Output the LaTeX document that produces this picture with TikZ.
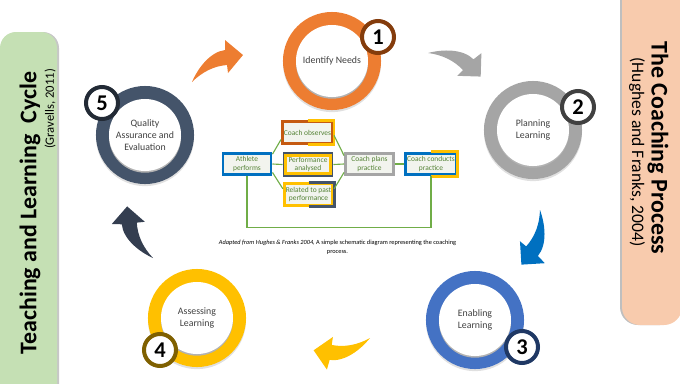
\documentclass[tikz,border=0pt]{standalone}
\usepackage{fontspec}
\setmainfont{Carlito}
\usetikzlibrary{positioning}
\definecolor{ringorange}{RGB}{237,125,49}
\definecolor{ringgray}{RGB}{165,165,165}
\definecolor{ringblue}{RGB}{68,114,196}
\definecolor{ringyellow}{RGB}{255,192,0}
\definecolor{ringslate}{RGB}{68,84,106}
\definecolor{numbrown}{RGB}{132,60,12}
\definecolor{numgray}{RGB}{64,64,64}
\definecolor{numnavy}{RGB}{31,56,100}
\definecolor{numolive}{RGB}{127,96,0}
\definecolor{numdark}{RGB}{34,42,53}
\definecolor{arrowblue}{RGB}{0,112,192}
\definecolor{arrowslate}{RGB}{52,62,80}
\definecolor{leftbar}{RGB}{197,224,180}
\definecolor{rightbar}{RGB}{248,203,173}
\definecolor{boxbrown}{RGB}{197,90,17}
\definecolor{boxfill}{RGB}{242,244,238}
\definecolor{boxtext}{RGB}{84,130,53}
\definecolor{linegreen}{RGB}{112,173,71}
\definecolor{ringtext}{RGB}{64,64,64}

\tikzset{
  ring/.style={circle, minimum size=1.8cm, inner sep=0pt, fill=white,
    text=ringtext, align=center, font=\fontsize{7}{8.5}\selectfont,
    preaction={draw=black!12, line width=0.65cm, transform canvas={yshift=-1.5pt}},
    preaction={draw=#1, line width=0.65cm},
    preaction={fill=black!30, transform canvas={yshift=-1.2pt}}},
  badge/.style={circle, draw=#1, line width=0.1cm, fill=white,
    minimum size=0.8cm, inner sep=0pt,
    font=\fontsize{16}{16}\selectfont\bfseries},
  stage/.style={draw=#1, line width=2.1pt, fill=boxfill, minimum width=1.2cm,
    minimum height=0.53cm, inner sep=1pt, align=center, text=boxtext,
    font=\fontsize{5.3}{6}\selectfont},
  flow/.style={draw=linegreen, line width=0.8pt},
  bartitle/.style={font=\fontsize{17}{17}\selectfont\bfseries},
  barsub/.style={font=\fontsize{9}{9}\selectfont},
  bendarrow/.pic={
    \path[pic actions] (0,0) .. controls (6,-14) and (18,-30) .. (33,-32)
      -- (33,-42) -- (51,-27) -- (36,-9) -- (35,-17)
      .. controls (22,-16) and (10,-10) .. (0,0) -- cycle;
  },
}

\begin{document}
\begin{tikzpicture}[x=0.025cm, y=-0.025cm]
  \useasboundingbox (0,0) rectangle (680,383);
  % Side bars
  \fill[black!22, rounded corners=0.4cm] (2,32) rectangle (59,420);
  \fill[leftbar, rounded corners=0.4cm] (0,32) rectangle (57,420);
  \fill[black!25, rounded corners=0.45cm] (620,-40) rectangle (678,325);
  \fill[rightbar, rounded corners=0.45cm] (622,-40) rectangle (682,325);
  \node[bartitle, rotate=90] (cycle) at (30,213) {Teaching and Learning\ \ Cycle};
  \node[barsub, rotate=90] (gravells) at (50,109) {(Gravells, 2011)};
  \node[bartitle, rotate=-90] (coaching) at (658,148) {The Coaching Process};
  \node[barsub, rotate=-90, font=\fontsize{12.5}{12.5}\selectfont] (hughes)
    at (637,152) {(Hughes and Franks, 2004)};
  % Curved arrows between the stages
  \foreach \xy/\ang/\col in {{192,82}/0/ringorange, {428,53}/-52/ringgray,
      {540,210}/-136.7/arrowblue, {370,338}/164.4/ringyellow,
      {153,258}/88.7/arrowslate}{
    \pic[fill=\col, rotate=\ang] at (\xy) {bendarrow};
  }
  % Cycle stages with their numbers
  \foreach \nm/\xy/\rc/\bc/\off/\num/\txt in {
      need/{332,61}/ringorange/numbrown/{46,-24}/1/{Identify Needs},
      plan/{533,130}/ringgray/numgray/{45,-23}/2/{Planning\\Learning},
      enable/{475,320}/ringblue/numnavy/{47,27}/3/{Enabling\\Learning},
      assess/{197,318}/ringyellow/numolive/{-37,32}/4/{Assessing\\Learning},
      quality/{145,135}/ringslate/numdark/{-43,-32}/5/{Quality\\Assurance and\\Evaluation}}{
    \node[ring=\rc] (\nm) at (\xy) {\txt};
    \node[badge=\bc] (\nm-num) at ([shift={(\off)}]\nm.center) {\num};
  }
  % Schematic of the coaching process
  \node[stage=arrowblue] (athlete) at (247,164) {Athlete\\performs};
  \node[stage=boxbrown] (observes) at (307.5,132.5) {Coach observes};
  \node[stage=ringslate] (analysed) at (308,164.5) {Performance\\analysed};
  \node[stage=ringyellow] (related) at (308.5,194.5) {Related to past\\performance};
  \node[stage=ringgray] (plans) at (369.5,164) {Coach plans\\practice};
  \node[stage=arrowblue] (conducts) at (431,164) {Coach conducts\\practice};
  \foreach \nm/\col in {observes/ringyellow, related/ringslate, conducts/ringyellow}{
    \draw[\col, line width=2.1pt] (\nm.north) -- (\nm.north east)
      -- (\nm.south east) -- (\nm.south);
  }
  \draw[ringyellow, line width=1.8pt] ([shift={(2.1pt,-2.1pt)}]analysed.north west)
    rectangle ([shift={(-2.1pt,2.1pt)}]analysed.south east);
  \draw[flow] ([yshift=7pt]athlete.east) -- ([yshift=-5pt]observes.west);
  \draw[flow] (athlete.east) -- (analysed.west);
  \draw[flow] ([yshift=-6pt]athlete.east) -- ([yshift=4pt]related.west);
  \draw[flow] ([yshift=-2pt]observes.east) -- ([yshift=6pt]plans.west);
  \draw[flow] (analysed.east) -- (plans.west);
  \draw[flow] ([yshift=4pt]related.east) -- ([yshift=-6pt]plans.west);
  \draw[flow] (plans.east) -- (conducts.west);
  \draw[flow] (conducts.south) -- ++(0,51) -| (athlete.south);
  \node[font=\fontsize{4.5}{6}\selectfont, align=center] (caption) at (337.5,247.5)
    {\textit{Adapted from Hughes \& Franks 2004,} A simple schematic diagram representing the coaching\\process.};
\end{tikzpicture}
\end{document}
